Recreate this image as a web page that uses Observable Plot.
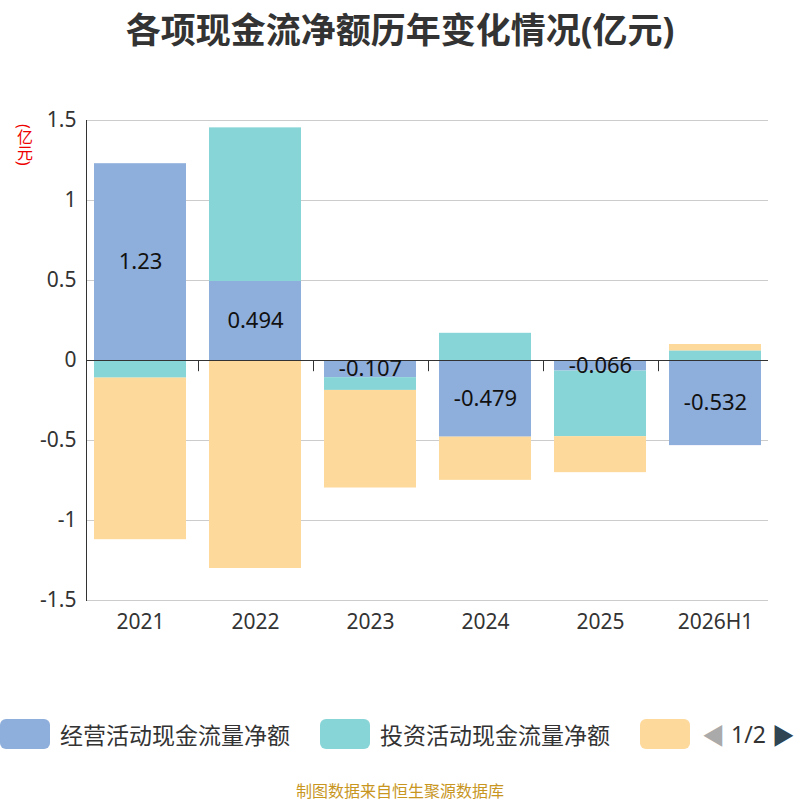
<!DOCTYPE html>
<html><head><meta charset="utf-8">
<script src="https://cdn.jsdelivr.net/npm/d3@7"></script>
<script src="https://cdn.jsdelivr.net/npm/@observablehq/plot@0.6"></script>
<style>
body{margin:0;width:800px;height:800px;position:relative;font-family:"Noto Sans","Noto Sans CJK SC",sans-serif;background:#fff}
#t{position:absolute;top:2px;width:800px;text-align:center;font-size:35px;font-weight:bold;color:#333}
#c{position:absolute;top:0;left:0}
#u{position:absolute;left:12px;top:124px;color:#e00;font-size:16px;writing-mode:vertical-rl;white-space:nowrap;width:24px;height:60px}
#lg{position:absolute;top:716px;left:0;width:800px;height:36px;font-size:23px;color:#333}
.it{position:absolute;top:0;display:flex;align-items:center;height:36px;white-space:nowrap}
.sw{width:50px;height:30px;border-radius:6px;margin-right:10px}
#f{position:absolute;top:778px;width:800px;text-align:center;font-size:16px;color:#c8961e}
</style></head><body>
<div id="t">各项现金流净额历年变化情况(亿元)</div>
<div id="u">(亿元)</div>
<div id="c"></div>
<div id="lg">
<div class="it" style="left:0"><div class="sw" style="background:#8eaedb"></div>经营活动现金流量净额</div>
<div class="it" style="left:320px"><div class="sw" style="background:#88d5d8"></div>投资活动现金流量净额</div>
<div class="it" style="left:640px"><div class="sw" style="background:#fdd99b"></div></div>
<div class="it" style="left:702px"><span style="color:#aaa">◀</span>&nbsp;1/2&nbsp;<span style="color:#2f4554">▶</span></div>
</div>
<div id="f">制图数据来自恒生聚源数据库</div>
<script>
const years=["2021","2022","2023","2024","2025","2026H1"];
const operating=[1.23,0.494,-0.107,-0.479,-0.066,-0.532];
const investing=[-0.11,0.96,-0.08,0.17,-0.41,0.06];
const financing=[-1.01,-1.30,-0.61,-0.27,-0.225,0.04];
const series=["经营","投资","筹资"];
const colors=["#8eaedb","#88d5d8","#fdd99b"];
const data=[];
years.forEach((y,i)=>{data.push({year:y,s:"经营",v:operating[i]});data.push({year:y,s:"投资",v:investing[i]});data.push({year:y,s:"筹资",v:financing[i]});});
const ops=years.map((y,i)=>({year:y,v:operating[i]}));
const chart=Plot.plot({
 width:800,height:660,marginTop:120,marginBottom:60,marginLeft:86,marginRight:32,
 style:{fontFamily:"Noto Sans, sans-serif",fontSize:"21px",color:"#333"},
 x:{domain:years,paddingInner:0.2,paddingOuter:0.05,label:null,tickSize:0,tickPadding:14},
 y:{domain:[-1.5,1.5],ticks:[-1.5,-1,-0.5,0,0.5,1,1.5],tickFormat:d=>String(d),label:null,tickSize:0,tickPadding:10},
 color:{domain:series,range:colors},
 marks:[
  Plot.gridY([-1.5,-1,-0.5,0.5,1,1.5],{stroke:"#ccc",strokeOpacity:1}),
  Plot.barY(data,Plot.stackY({x:"year",y:"v",fill:"s",order:series})),
  Plot.ruleY([0],{stroke:"#333"}),
  Plot.frame({anchor:"left",stroke:"#333"}),
  Plot.ruleX(years.slice(1),{x:d=>d,y1:0,y2:-0.07,dx:-57,stroke:"#333"}),
  Plot.text(ops,{x:"year",y:d=>d.v/2,text:d=>String(d.v),fontSize:22,fill:"#111"})
 ]});
document.getElementById("c").append(chart);
</script></body></html>
